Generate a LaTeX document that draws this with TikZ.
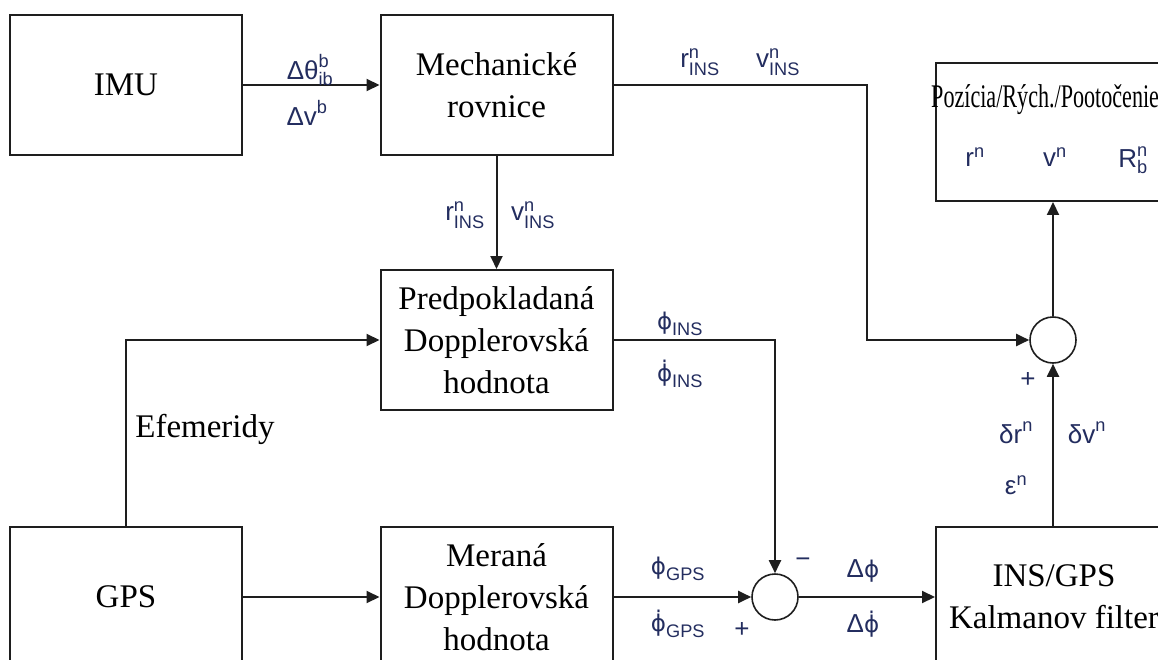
\documentclass[tikz,border=0pt]{standalone}
\usepackage{fontspec}
\usepackage{amsmath}
\usepackage{tikz}
\usetikzlibrary{arrows.meta, positioning}
\setmainfont{Liberation Serif}
\newfontfamily\sigfont{Liberation Sans}
\newfontfamily\greekfont{DejaVu Sans}
\newcommand{\vphi}{{\greekfont\fontsize{23}{26}\selectfont ϕ}}
\newcommand{\vphidot}{{\greekfont\fontsize{23}{26}\selectfont ϕ̇}}
\definecolor{sigcolor}{RGB}{35,45,95}
\definecolor{linecolor}{RGB}{30,30,30}

\begin{document}
\begin{tikzpicture}[
    x=1pt, y=-1pt,
    block/.style={draw=linecolor, line width=2pt, minimum width=232pt, minimum height=140pt, inner sep=0pt, align=center, font=\fontsize{33}{42}\selectfont},
    sumnode/.style={draw=linecolor, line width=1.6pt, circle, minimum size=46pt, inner sep=0pt},
    sig/.style={text=sigcolor, inner sep=0pt, font=\sigfont\fontsize{26}{30}\selectfont},
    flow/.style={draw=linecolor, line width=2pt, -{Triangle[length=13pt, width=12pt]}}
]
    \useasboundingbox (0,0) rectangle (1158,660);
    \clip (0,0) rectangle (1158,660);

    % Blocks
    \node[block] (imu) at (126,85) {IMU};
    \node[block] (mech) at (496.5,85) {Mechanické\\rovnice};
    \node[block] (pred) at (496.5,340) {Predpokladaná\\Dopplerovská\\hodnota};
    \node[block] (gps) at (126,597) {GPS};
    \node[block] (meas) at (496.5,597) {Meraná\\Dopplerovská\\hodnota};
    \node[block, minimum width=236pt] (kf) at (1054,597) {INS/GPS\\Kalmanov filter};
    \node[block, minimum width=238pt, minimum height=138pt] (out) at (1055,132) {};
    \node[anchor=west, inner sep=0pt, font=\fontsize{33}{40}\selectfont] (outtitle) at (931,100) {\scalebox{0.67}[1]{Pozícia/Rých./Pootočenie}};
    \node[sig] (rn) at (975,157) {$\text{r}^{\text{n}}$};
    \node[sig] (vn) at (1055,157) {$\text{v}^{\text{n}}$};
    \node[sig] (rbn) at (1133,160) {$\text{R}^{\text{n}}_{\text{b}}$};

    % Summing junctions
    \node[sumnode] (sumlow) at (775,597) {};
    \node[sumnode] (sumup) at (1053,340) {};
    \coordinate (bend) at (867,85);

    % Connectors
    \draw[flow] (imu) -- (mech);
    \draw[flow] (mech) -- (pred);
    \draw[flow] (gps) -- (meas);
    \draw[flow] (gps.north) |- (pred.west);
    \draw[flow] (pred.east) -| (sumlow.north);
    \draw[flow] (meas) -- (sumlow);
    \draw[flow] (sumlow) -- (kf);
    \draw[flow] (mech.east) -- (bend) |- (sumup.west);
    \draw[flow] (sumup |- kf.north) -- (sumup.south);
    \draw[flow] (sumup.north) -- (sumup |- out.south);

    % Signal labels
    \node[sig] (dtheta) at (310,70) {$\text{Δθ}^{\text{b}}_{\text{ib}}$};
    \node[sig] (dvb) at (307,113) {$\text{Δv}^{\text{b}}$};
    \node[sig] (rins) at (700,62) {$\text{r}^{\text{n}}_{\text{INS}}$};
    \node[sig] (vins) at (778,62) {$\text{v}^{\text{n}}_{\text{INS}}$};
    \node[sig] (rinsdown) at (465,215) {$\text{r}^{\text{n}}_{\text{INS}}$};
    \node[sig] (vinsdown) at (533,215) {$\text{v}^{\text{n}}_{\text{INS}}$};
    \node[sig] (phiins) at (680,324) {$\text{\vphi}_{\text{INS}}$};
    \node[sig] (dotphiins) at (680,374) {$\text{\vphidot}_{\text{INS}}$};
    \node[sig] (phigps) at (678,569) {$\text{\vphi}_{\text{GPS}}$};
    \node[sig] (dotphigps) at (678,624) {$\text{\vphidot}_{\text{GPS}}$};
    \node[sig] (pluslow) at (742,630) {+};
    \node[sig] (minuslow) at (803,563) {−};
    \node[sig] (dphi) at (863,571) {$\text{Δ\vphi}$};
    \node[sig] (ddotphi) at (863,624) {$\text{Δ\vphidot}$};
    \node[sig] (drn) at (1016,433) {$\text{δr}^{\text{n}}$};
    \node[sig] (epsn) at (1016,485) {$\text{ε}^{\text{n}}$};
    \node[sig] (dvn) at (1087,433) {$\text{δv}^{\text{n}}$};
    \node[sig] (plusup) at (1028,380) {+};
    \node[anchor=base, inner sep=0pt, font=\fontsize{33}{40}\selectfont] (ephem) at (205,437) {Efemeridy};
\end{tikzpicture}
\end{document}
